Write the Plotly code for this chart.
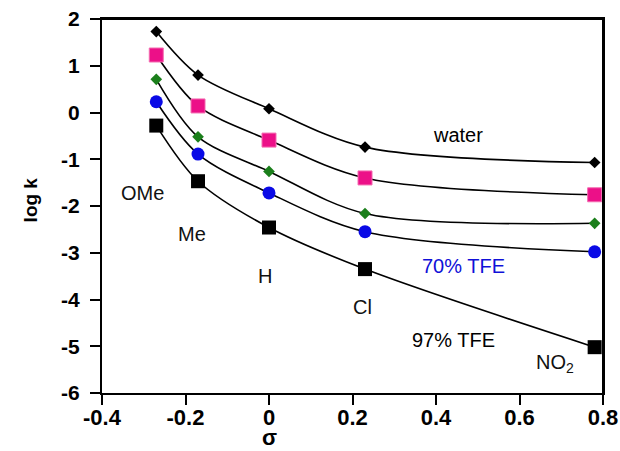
import plotly.graph_objects as go

sigma = [-0.27, -0.17, 0.0, 0.23, 0.78]
water = [1.73, 0.80, 0.08, -0.74, -1.07]
tfe_pink = [1.23, 0.14, -0.59, -1.40, -1.76]
tfe_green = [0.71, -0.52, -1.26, -2.16, -2.37]
tfe70 = [0.23, -0.89, -1.72, -2.55, -2.98]
tfe97 = [-0.28, -1.47, -2.46, -3.35, -5.02]

substituents = ["OMe", "Me", "H", "Cl", "NO<sub>2</sub>"]
sub_x = [-0.302, -0.184, -0.010, 0.225, 0.685]
sub_y = [-1.72, -2.60, -3.50, -4.16, -5.36]

solvent_labels = ["water", "70% TFE", "97% TFE"]
solvent_x = [0.453, 0.465, 0.441]
solvent_y = [-0.48, -3.28, -4.87]
solvent_colors = ["black", "#1010D8", "black"]

x_ticks = [-0.4, -0.2, 0, 0.2, 0.4, 0.6, 0.8]
x_ticktext = ["-0.4", "-0.2", "0", "0.2", "0.4", "0.6", "0.8"]
y_ticks = [2, 1, 0, -1, -2, -3, -4, -5, -6]
y_ticktext = ["2", "1", "0", "-1", "-2", "-3", "-4", "-5", "-6"]

series = [
    (water, "diamond", 9, "black"),
    (tfe_pink, "square", 14, "#EC1088"),
    (tfe_green, "diamond", 9, "#1B7F1B"),
    (tfe70, "circle", 13, "#0A0AE6"),
    (tfe97, "square", 14, "black"),
]

fig = go.Figure()
for ys, sym, size, col in series:
    fig.add_trace(go.Scatter(
        x=sigma, y=ys, mode="lines",
        line=dict(color="black", width=1.6, shape="spline", smoothing=0.9),
        showlegend=False, hoverinfo="skip"))
for ys, sym, size, col in series:
    fig.add_trace(go.Scatter(
        x=sigma, y=ys, mode="markers",
        marker=dict(symbol=sym, size=size, color=col,
                    line=dict(width=1 if col == "#EC1088" else 0,
                              color="#F46BB0")),
        showlegend=False))

font = "Liberation Sans, Arial, sans-serif"
for t, x, y in zip(substituents, sub_x, sub_y):
    fig.add_annotation(x=x, y=y, text=t, showarrow=False,
                       font=dict(family=font, size=20, color="#111"))
for t, x, y, c in zip(solvent_labels, solvent_x, solvent_y, solvent_colors):
    fig.add_annotation(x=x, y=y, text=t, showarrow=False,
                       font=dict(family=font, size=20, color=c))

# axis titles
fig.add_annotation(x=0.0, xref="x", y=-0.155, yref="paper", yanchor="bottom",
                   xanchor="center", borderpad=0, text="<b>σ</b>",
                   showarrow=False,
                   font=dict(family=font, size=22, color="black"))
fig.add_annotation(x=-0.1437, xref="paper", y=0.515, yref="paper",
                   xanchor="center", yanchor="middle",
                   textangle=-90, text="<b>log k</b>", showarrow=False,
                   font=dict(family=font, size=19, color="black"))

# plot frame (top and right edges)
fig.add_shape(type="line", xref="paper", yref="paper", x0=0, x1=1, y0=1, y1=1,
              line=dict(color="black", width=2), layer="above")
fig.add_shape(type="line", xref="paper", yref="paper", x0=1, x1=1, y0=0, y1=1,
              line=dict(color="black", width=2), layer="above")

fig.update_layout(
    width=620, height=451,
    margin=dict(l=102, r=17, t=19, b=58),
    paper_bgcolor="white", plot_bgcolor="white",
    font=dict(family=font, color="black"),
)
fig.update_xaxes(
    range=[-0.4, 0.8], tickvals=x_ticks, ticktext=x_ticktext,
    showgrid=False, zeroline=False, automargin=False,
    showline=True, linecolor="black", linewidth=2, mirror=True,
    ticks="outside", ticklen=10, tickwidth=2, tickcolor="black",
    ticklabelstandoff=-6, ticklabeloverflow="allow",
    tickfont=dict(family=font, size=22, color="black", weight="bold"),
)
fig.update_yaxes(
    range=[-6, 2], tickvals=y_ticks, ticktext=y_ticktext,
    showgrid=False, zeroline=False, automargin=False,
    showline=True, linecolor="black", linewidth=2, mirror=True,
    ticks="outside", ticklen=10, tickwidth=2, tickcolor="black",
    ticklabelstandoff=6, ticklabeloverflow="allow",
    tickfont=dict(family=font, size=21, color="black", weight="bold"),
)

fig.write_html(
    "out.html",
    config={"displayModeBar": False},
    post_script="document.body.style.margin='0';document.body.style.overflow='hidden';",
)
